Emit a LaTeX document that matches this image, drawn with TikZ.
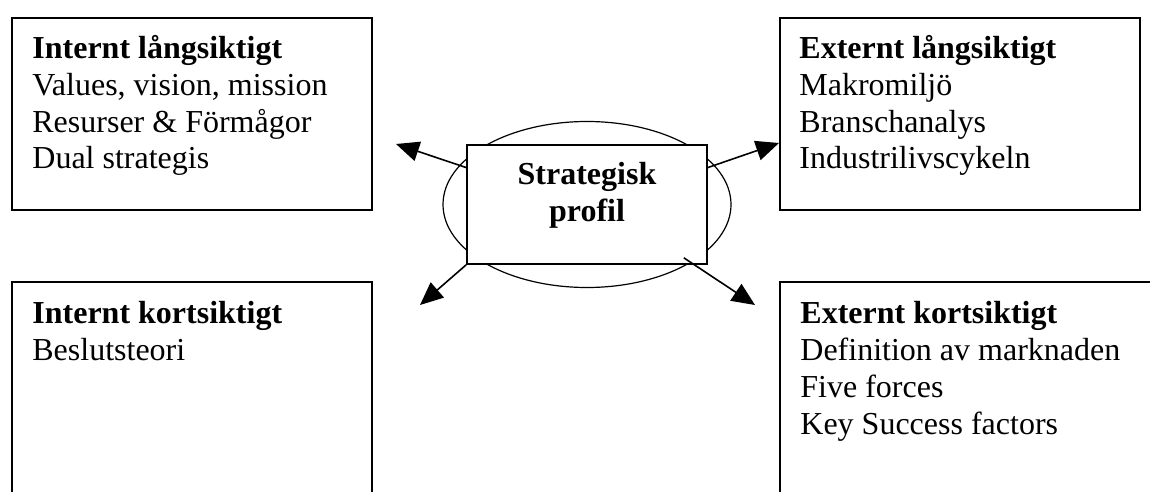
\documentclass[tikz,border=0pt]{standalone}
\usepackage{fontspec}
\setmainfont{Liberation Serif}
\usetikzlibrary{positioning,arrows.meta,shapes.geometric}
\tikzset{
  quad/.style={draw=black,line width=0.8pt,anchor=north west,inner sep=0pt,minimum width=180pt},
  txt/.style={align=left,inner sep=0pt,font=\fontsize{16}{18.4}\selectfont},
  ctr/.style={align=center,inner sep=0pt,font=\fontsize{16}{18.5}\selectfont\bfseries},
  flow/.style={-{Triangle[length=11.5pt,width=10pt]},draw=black,line width=0.8pt}}

\begin{document}
\begin{tikzpicture}[x=0.5pt,y=-0.5pt]
  \clip (0,0) rectangle (1150,492);
  % the four boxes
  \node[quad,minimum height=96pt] (tl) at (11,17) {};
  \node[quad,minimum height=96pt] (tr) at (779,17) {};
  \node[quad,minimum height=120pt] (bl) at (11,281) {};
  \node[quad,minimum height=120pt,minimum width=190pt] (br) at (779,281) {};
  \node[txt,below right=9pt and 10.5pt of tl.north west] (tltxt) {\textbf{Internt långsiktigt}\\Values, vision, mission\\Resurser \& Förmågor\\Dual strategis};
  \node[txt,below right=9pt and 10pt of tr.north west] (trtxt) {\textbf{Externt långsiktigt}\\Makromiljö\\Branschanalys\\Industrilivscykeln};
  \node[txt,below right=10pt and 10.5pt of bl.north west] (bltxt) {\textbf{Internt kortsiktigt}\\Beslutsteori};
  \node[txt,below right=10pt and 10.5pt of br.north west] (brtxt) {\textbf{Externt kortsiktigt}\\Definition av marknaden\\Five forces\\Key Success factors};
  % centre
  \node[ellipse,draw=black,line width=0.6pt,inner sep=0pt,minimum width=144pt,minimum height=83pt] (ell) at (587,204.5) {};
  \node[draw=black,fill=white,line width=0.8pt,inner sep=0pt,minimum width=120pt,minimum height=59.5pt] (prof) at (587,204.5) {};
  \node[ctr,below=9pt of prof.north] (proftxt) {Strategisk\\profil};
  % arrow tips
  \coordinate (t1) at (396,144);
  \coordinate (t2) at (779,143);
  \coordinate (t3) at (420,305);
  \coordinate (t4) at (755,305);
  \draw[flow] (prof.163) -- (t1);
  \draw[flow] (prof.17) -- (t2);
  \draw[flow] (prof.south west) -- (t3);
  \draw[flow] ([shift={(-24,-7)}]prof.south east) -- (t4);
\end{tikzpicture}
\end{document}
